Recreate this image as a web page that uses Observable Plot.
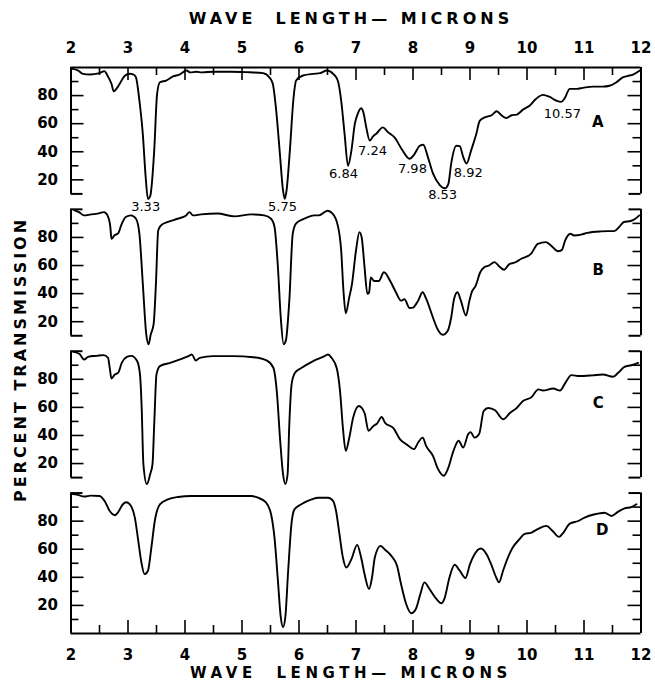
<!DOCTYPE html>
<html><head><meta charset="utf-8">
<script src="https://cdn.jsdelivr.net/npm/d3@7"></script>
<script src="https://cdn.jsdelivr.net/npm/@observablehq/plot@0.6"></script>
<style>
body{margin:0;background:#fff}
#chart svg{display:block;background:#fff}
</style></head><body><div id="chart"></div>
<script>
// ---- data (wavelength in microns, percent transmission) ----
const panels = ["A","B","C","D"];
const aX = [2.02,2.12,2.21,2.33,2.5,2.59,2.63,2.71,2.75,2.8,2.87,2.94,3.03,3.1,3.14,3.2,3.26,3.31,3.35,3.39,3.46,3.51,3.56,3.67,3.79,3.9,4.03,4.09,4.2,4.3,4.5,4.8,5.07,5.37,5.48,5.54,5.6,5.66,5.72,5.75,5.78,5.84,5.9,5.95,6.07,6.25,6.37,6.49,6.6,6.68,6.74,6.8,6.86,6.92,6.98,7.03,7.09,7.13,7.18,7.24,7.3,7.36,7.47,7.56,7.68,7.8,7.94,8.02,8.12,8.18,8.26,8.35,8.47,8.56,8.62,8.67,8.76,8.82,8.88,8.94,9.02,9.11,9.17,9.26,9.38,9.47,9.55,9.64,9.73,9.82,9.93,10.05,10.16,10.28,10.4,10.51,10.6,10.66,10.75,10.87,10.98,11.16,11.33,11.45,11.57,11.68,11.77,11.86,11.98];
const aT = [99,98,95.5,95,96,97.4,95,88.4,83,85,89.5,94,95.5,95,93,76.5,52.6,22,6.4,8.5,41,81,89.5,90.7,93.6,95,97.9,96.5,97,96.5,97,97,96.7,96,93,88.4,69.3,41,12.4,6.5,12,41,76.5,90.7,94.3,95.5,96,97.9,95.5,90.7,76.5,52.6,30,41,60,67,71,68,57.4,48,51,53,57.4,54,50,42,35,38,44.3,45,36.4,24.6,16.3,14,17,31.6,44.3,44,36.4,31.6,41,52.6,62,64.5,66,68.8,66,64,66,66.5,70,73,77.7,80.5,79,76.5,75.5,78,84.8,84.8,85.5,86.4,86.4,87,89.5,93,94,95,97.9];
const bX = [2.06,2.14,2.23,2.35,2.47,2.58,2.64,2.69,2.71,2.76,2.83,2.88,2.96,3.05,3.14,3.2,3.26,3.32,3.36,3.4,3.45,3.49,3.53,3.58,3.7,3.87,4.02,4.08,4.14,4.28,4.57,4.87,5.16,5.39,5.51,5.57,5.63,5.68,5.73,5.77,5.83,5.89,5.95,6.09,6.27,6.35,6.5,6.59,6.68,6.74,6.78,6.82,6.88,6.93,7.0,7.06,7.1,7.15,7.2,7.23,7.26,7.32,7.4,7.49,7.6,7.7,7.79,7.85,7.94,8.0,8.09,8.17,8.23,8.35,8.43,8.52,8.61,8.67,8.72,8.78,8.84,8.93,8.99,9.03,9.1,9.18,9.25,9.33,9.43,9.51,9.6,9.69,9.78,9.9,10.07,10.19,10.33,10.42,10.54,10.61,10.67,10.76,10.83,10.95,11.06,11.3,11.42,11.53,11.62,11.7,11.82,11.9,11.97];
const bT = [99.3,98,95.7,96.4,97,98,95.7,87.6,79,81.4,83,88.6,94.5,95.7,93.3,82.6,47,11.2,4,11,18.4,47,85,88.6,91,93.3,95.7,98,95.7,96.4,97,95,96.4,95.7,93.3,87.6,58.8,23,4,6.7,35,82.6,90,93.3,95.7,95.7,99,97,88.6,70.7,42,26,37,47,70.7,83.8,80,58.8,39.8,41,51.6,49,49,55.2,49,41,35,36,29.8,30,35,41,36.4,23,14.8,10.7,13.6,23,36.2,41,35,24.3,35,41,45.7,55.2,58.8,60,62.4,59.5,57,61,62,64.8,68.3,75.5,76.7,74.3,70.2,71,77.9,82.6,81.4,82,83.3,84.3,84.5,84.5,87.6,91,91.7,93.3,95.7];
const cX = [2.04,2.15,2.23,2.3,2.45,2.57,2.65,2.68,2.71,2.77,2.83,2.89,2.98,3.06,3.16,3.21,3.24,3.27,3.33,3.39,3.43,3.46,3.5,3.56,3.74,3.9,4.06,4.12,4.19,4.26,4.49,4.84,5.2,5.43,5.55,5.61,5.67,5.72,5.76,5.8,5.83,5.87,5.93,6.04,6.25,6.42,6.51,6.57,6.66,6.72,6.77,6.82,6.88,6.95,7.05,7.15,7.22,7.31,7.37,7.45,7.51,7.66,7.77,7.89,8.02,8.09,8.17,8.23,8.35,8.44,8.54,8.61,8.71,8.8,8.88,8.97,9.01,9.08,9.16,9.24,9.32,9.44,9.58,9.7,9.82,9.93,10.08,10.2,10.28,10.46,10.58,10.67,10.78,10.92,11.15,11.33,11.51,11.6,11.71,11.83,11.95];
const cT = [99.5,98,94,96,96.7,97.2,95.3,88,80.6,83.4,84.7,91.7,95.9,96.7,93,83.5,59.8,19.6,5.4,12.5,19.6,48,83.5,89.4,91.7,94,96.5,97.6,93.4,95.3,96.5,96.5,95.7,93.4,88.2,71.6,36.2,12.5,5.4,12.5,48,76.4,84.6,88,93,95.9,97.6,95.3,88.2,71.6,45.6,29,38,52.7,61,56,43.3,47,48.5,53.2,49,45,37.4,33.6,30.3,35,38.5,32.6,25.5,16,11.3,16,29,36.2,31.4,41,42.4,38.5,41,57.4,59.6,57.9,51.5,56,59.6,64.5,67.3,72.8,72,73.4,72,77.3,83,82.3,82.8,83.4,81.8,84.6,88.9,90,91.7];
const dX = [2.0,2.12,2.23,2.35,2.5,2.59,2.68,2.77,2.82,2.91,2.97,3.05,3.12,3.18,3.23,3.29,3.35,3.41,3.47,3.56,3.7,3.88,4.11,4.4,4.7,5.16,5.28,5.42,5.51,5.57,5.63,5.68,5.72,5.76,5.81,5.87,5.92,6.04,6.22,6.34,6.51,6.6,6.65,6.71,6.77,6.83,6.92,7.02,7.09,7.15,7.23,7.28,7.33,7.43,7.5,7.62,7.72,7.79,7.88,7.97,8.05,8.13,8.2,8.29,8.41,8.5,8.55,8.64,8.73,8.82,8.92,9.0,9.08,9.19,9.29,9.37,9.46,9.51,9.58,9.67,9.75,9.87,9.95,10.08,10.19,10.34,10.45,10.56,10.64,10.75,10.9,11.01,11.19,11.36,11.48,11.6,11.71,11.83,11.92];
const dT = [99.5,98.7,97.5,98.2,97.9,94.3,87.2,84.2,86,92,93.4,90.9,82.5,66,51.8,42.3,44.7,61.2,80.1,92,95.5,97.2,97.9,97.9,97.9,97.9,96.7,93.4,84.9,68.3,37.6,11.6,4.5,11.6,44.7,79,88.4,92,95.5,96.7,96.7,94.3,87.2,70.7,54.1,47,53,63.1,54.1,42.3,31.7,39.7,54.1,62.4,60,55.3,48.2,35.2,21,14.4,17.4,28.2,36.4,31.7,24.6,21.5,24.6,39.9,48.9,44.7,39.5,49.4,56.5,60.5,56.5,49.4,39.9,36.4,44.7,54.6,61.2,67.2,70.7,71.9,74.3,76.6,73,68.8,71.9,78.2,80.1,82.5,84.9,86,83.7,86.8,89.1,90,92];

const panelBottom = [10,10,10,0];
const xMajor = [2,3,4,5,6,7,8,9,10,11,12];
const xMinor = [2.5,3.5,4.5,5.5,6.5,7.5,8.5,9.5,10.5,11.5];
const yLabelVals = [20,40,60,80];
const yMinorVals = [10,30,50,70,90];

const peakLabels = ["3.33","5.75","6.84","7.24","7.98","8.53","8.92","10.57"];
const peakLabelX = [3.31,5.71,6.78,7.29,7.99,8.52,8.97,10.62];
const peakLabelT = [0.5,0.5,24.5,41,28,9,25.2,67.2];
const panelLetterX = [11.24,11.25,11.25,11.32];
const panelLetterT = [61,56.5,62.8,73.4];

const xTitle = "WAVE  LENGTH\u2014 MICRONS";
const yTitle = "PERCENT TRANSMISSION";

// ---- layout ----
const W = 655, H = 684, mL = 70.5, mR = 14.5, mT = 67, mB = 51;
const GAP = 11;                         // gap between stacked panels (percent units)
const off = i => i * (90 + GAP);        // vertical stacking offset
const yMin = -off(3), yMax = 100;
const pxU = (H - mT - mB) / (yMax - yMin);   // px per percent unit
const pxM = (W - mL - mR) / 10;              // px per micron
const u = px => px / pxU, m = px => px / pxM;

const series = [[aX,aT],[bX,bT],[cX,cT],[dX,dT]];
const rows = [];
series.forEach(([xs, ts], i) => xs.forEach((w, j) => rows.push({panel: panels[i], w, y: ts[j] - off(i)})));

const pIdx = panels.map((p, i) => ({p, i, top: 100 - off(i), bot: panelBottom[i] - off(i)}));
const yTicks = [];
pIdx.forEach(({i}) => {
  yLabelVals.forEach(v => yTicks.push({y: v - off(i), len: 13, v}));
  yMinorVals.forEach(v => { if (v > panelBottom[i]) yTicks.push({y: v - off(i), len: 8, v}); });
});
const caps = [];
pIdx.forEach(({i, top, bot}) => {
  if (i > 0) caps.push({y: top});
  if (i < 3) caps.push({y: bot});
});

const F = "DejaVu Sans, Liberation Sans, sans-serif";
const SW = 2;

const chart = Plot.plot({
  width: W, height: H, marginLeft: mL, marginRight: mR, marginTop: mT, marginBottom: mB,
  x: {domain: [2, 12], axis: null},
  y: {domain: [yMin, yMax], axis: null},
  marks: [
    // frames
    Plot.ruleY([yMax, yMin], {x1: 2, x2: 12, stroke: "black", strokeWidth: SW}),
    Plot.ruleX(pIdx, {x: 2, y1: "top", y2: "bot", stroke: "black", strokeWidth: SW}),
    Plot.ruleX(pIdx, {x: 12, y1: "top", y2: "bot", stroke: "black", strokeWidth: SW}),
    Plot.ruleY(caps, {y: "y", x1: 2, x2: 2 + m(12), stroke: "black", strokeWidth: SW}),
    Plot.ruleY(caps, {y: "y", x1: 12 - m(12), x2: 12, stroke: "black", strokeWidth: SW}),
    // y ticks (inward)
    Plot.ruleY(yTicks, {y: "y", x1: 2, x2: d => 2 + m(d.len), stroke: "black", strokeWidth: 1.6}),
    Plot.ruleY(yTicks, {y: "y", x1: d => 12 - m(d.len), x2: 12, stroke: "black", strokeWidth: 1.6}),
    // x ticks top (down) and bottom (up)
    Plot.ruleX(xMajor, {x: d => d, y1: yMax, y2: yMax - u(13), stroke: "black", strokeWidth: 1.6}),
    Plot.ruleX(xMinor, {x: d => d, y1: yMax, y2: yMax - u(8), stroke: "black", strokeWidth: 1.6}),
    Plot.ruleX(xMajor, {x: d => d, y1: yMin, y2: yMin + u(13), stroke: "black", strokeWidth: 1.6}),
    Plot.ruleX(xMinor, {x: d => d, y1: yMin, y2: yMin + u(8), stroke: "black", strokeWidth: 1.6}),
    // spectra
    Plot.line(rows, {x: "w", y: "y", z: "panel", stroke: "black", strokeWidth: 1.9, curve: "monotone-x"}),
    // tick labels
    Plot.text(xMajor, {x: d => d, y: yMax, dy: -19, text: d => String(d), fontFamily: F, fontWeight: "bold", fontSize: 15}),
    Plot.text(xMajor, {x: d => d, y: yMin, dy: 22, text: d => String(d), fontFamily: F, fontWeight: "bold", fontSize: 15}),
    Plot.text(yTicks.filter(d => d.len === 13), {x: 2, y: "y", dx: -13, text: d => String(d.v), textAnchor: "end", fontFamily: F, fontWeight: "bold", fontSize: 15}),
    // titles
    Plot.text([xTitle], {frameAnchor: "top", lineAnchor: "middle", textAnchor: "middle", dx: -5, dy: -49, text: d => d, fontFamily: F, fontSize: 16, fontWeight: 600}),
    Plot.text([xTitle], {frameAnchor: "bottom", lineAnchor: "middle", textAnchor: "middle", dx: -5, dy: 40, text: d => d, fontFamily: F, fontSize: 15, fontWeight: 600}),
    Plot.text([yTitle], {frameAnchor: "left", lineAnchor: "middle", textAnchor: "middle", dx: -50, dy: 9, rotate: -90, text: d => d, fontFamily: F, fontSize: 16, fontWeight: "bold"}),
    // annotations
    Plot.text(peakLabels, {x: (d, i) => peakLabelX[i], y: (d, i) => peakLabelT[i], text: d => d, fontFamily: F, fontSize: 13}),
    Plot.text(panels, {x: (d, i) => panelLetterX[i], y: (d, i) => panelLetterT[i] - off(i), text: d => d, fontFamily: F, fontWeight: "bold", fontSize: 15})
  ]
});
chart.style.overflow = "visible";
d3.select(chart).selectAll("text").filter(function(){ return this.textContent.startsWith("WAVE"); }).each(function(){
  d3.select(this).attr("letter-spacing", +this.getAttribute("font-size") === 15 || this.closest("g").getAttribute("font-size") === "15" ? 4.6 : 4);
});
d3.select(chart).selectAll("text").filter(function(){ return this.textContent.startsWith("PERCENT"); }).attr("letter-spacing", 3);
document.getElementById("chart").appendChild(chart);
</script></body></html>
